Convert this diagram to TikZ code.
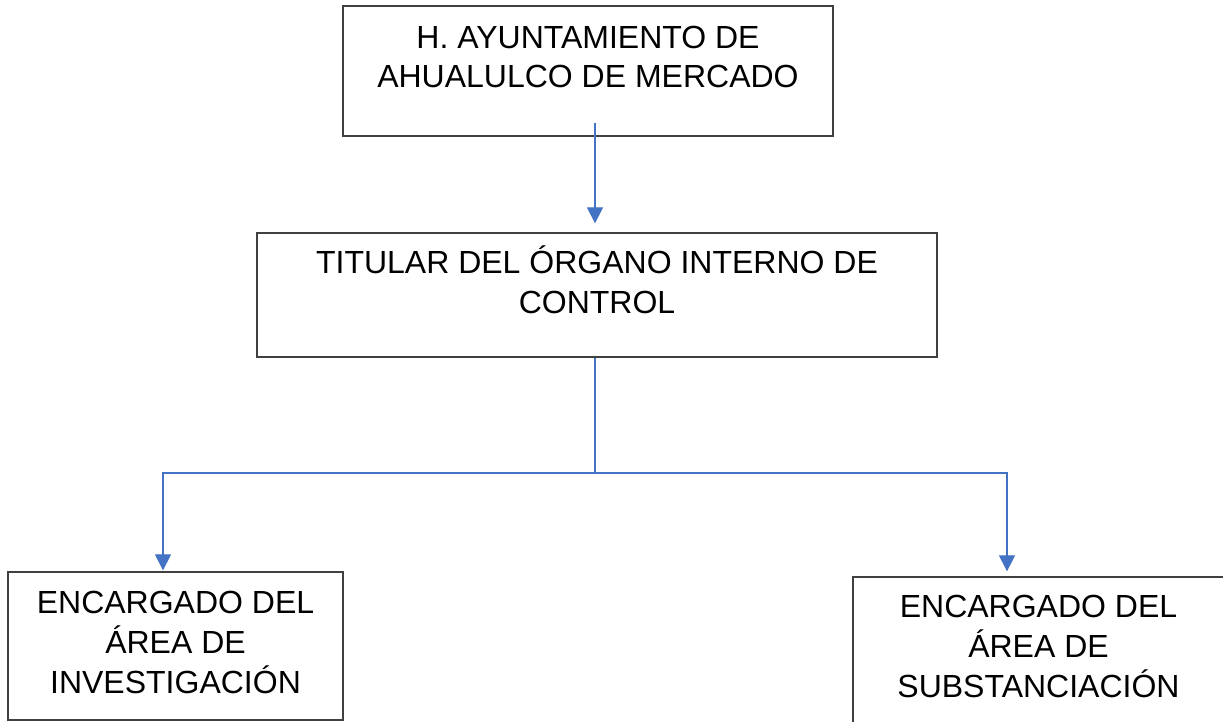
\documentclass[tikz,border=0pt]{standalone}
\usepackage{fontspec}
\setmainfont{Liberation Sans}
\usetikzlibrary{arrows.meta}
\definecolor{boxline}{HTML}{404040}
\definecolor{connblue}{HTML}{4472C4}
\tikzset{
  orgbox/.style={draw=boxline, line width=1.3pt, inner sep=0pt, fill=none},
  txtline/.style={anchor=base, inner sep=0pt, font=\fontsize{32}{40}\selectfont, text=black},
  conn/.style={draw=connblue, line width=1.2pt},
  connarrow/.style={conn, -{Triangle[length=16pt,width=16pt]}}
}
\begin{document}
\begin{tikzpicture}[x=1pt,y=1pt]
\useasboundingbox (0,0) rectangle (1223,-721);
\fill[white] (0,0) rectangle (1223,-721);
\clip (0,0) rectangle (1223,-721);

% boxes
\node[orgbox, minimum width=490pt, minimum height=130pt] (ayto) at (588,-71) {};
\node[orgbox, minimum width=680pt, minimum height=124pt] (titular) at (597,-295) {};
\node[orgbox, minimum width=335pt, minimum height=148pt] (inv) at (175.5,-646) {};
\node[orgbox, minimum width=371pt, minimum height=183pt] (sub) at (1038.5,-668.5) {};

% texts
\node[txtline] (t1a) at (588,-48) {H. AYUNTAMIENTO DE};
\node[txtline] (t1b) at (588,-87.5) {AHUALULCO DE MERCADO};
\node[txtline] (t2a) at (597,-273) {TITULAR DEL ÓRGANO INTERNO DE};
\node[txtline] (t2b) at (597,-313) {CONTROL};
\node[txtline] (t3a) at (175.5,-613) {ENCARGADO DEL};
\node[txtline] (t3b) at (175.5,-653) {ÁREA DE};
\node[txtline] (t3c) at (175.5,-693) {INVESTIGACIÓN};
\node[txtline] (t4a) at (1038.5,-617) {ENCARGADO DEL};
\node[txtline] (t4b) at (1038.5,-657) {ÁREA DE};
\node[txtline] (t4c) at (1038.5,-697) {SUBSTANCIACIÓN};

% connectors
\coordinate (start) at (595,-123);
\coordinate (j) at (595,-473);
\coordinate (jl) at (163,-473);
\coordinate (jr) at (1007,-473);
\draw[connarrow, shorten >=9pt] (start) -- (start |- titular.north);
\draw[conn] (j |- titular.south) -- (j);
\draw[connarrow, shorten >=1pt] (j) -- (jl) -- (jl |- inv.north);
\draw[connarrow, shorten >=5pt] (j) -- (jr) -- (jr |- sub.north);
\end{tikzpicture}
\end{document}
